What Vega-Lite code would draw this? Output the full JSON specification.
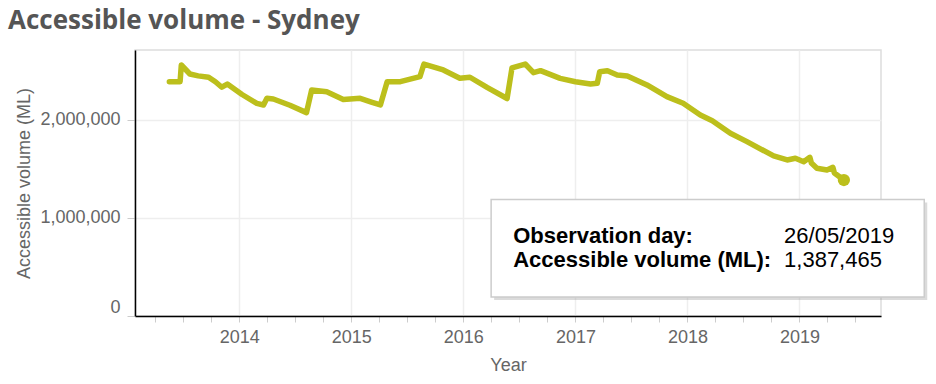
{
  "$schema": "https://vega.github.io/schema/vega-lite/v6.json",
  "width": 746,
  "height": 266,
  "autosize": {"type": "none"},
  "padding": {"left": 135, "top": 50, "right": 55, "bottom": 68},
  "background": "white",
  "title": {
    "text": "Accessible volume - Sydney",
    "anchor": "start",
    "frame": "group",
    "font": "Open Sans",
    "fontSize": 26,
    "fontWeight": "bold",
    "color": "#555555",
    "dx": -127,
    "dy": 23,
    "offset": 18,
    "baseline": "alphabetic"
  },
  "config": {
    "view": {"stroke": "#dddddd", "strokeWidth": 1.5},
    "font": "Liberation Sans"
  },
  "datasets": {
    "volume": [
      {"date": "2013-05-18", "value": 2391000},
      {"date": "2013-06-22", "value": 2391000},
      {"date": "2013-06-26", "value": 2561000},
      {"date": "2013-07-24", "value": 2469000},
      {"date": "2013-08-20", "value": 2450000},
      {"date": "2013-09-23", "value": 2436000},
      {"date": "2013-10-15", "value": 2390000},
      {"date": "2013-11-05", "value": 2334000},
      {"date": "2013-11-23", "value": 2367000},
      {"date": "2014-01-10", "value": 2260000},
      {"date": "2014-02-27", "value": 2170000},
      {"date": "2014-03-21", "value": 2153000},
      {"date": "2014-04-01", "value": 2221000},
      {"date": "2014-04-22", "value": 2214000},
      {"date": "2014-06-15", "value": 2150000},
      {"date": "2014-08-08", "value": 2075000},
      {"date": "2014-08-25", "value": 2306000},
      {"date": "2014-10-13", "value": 2289000},
      {"date": "2014-12-06", "value": 2209000},
      {"date": "2015-01-30", "value": 2221000},
      {"date": "2015-03-10", "value": 2180000},
      {"date": "2015-04-06", "value": 2153000},
      {"date": "2015-04-28", "value": 2391000},
      {"date": "2015-06-10", "value": 2391000},
      {"date": "2015-08-13", "value": 2442000},
      {"date": "2015-08-26", "value": 2571000},
      {"date": "2015-10-28", "value": 2510000},
      {"date": "2015-12-21", "value": 2425000},
      {"date": "2016-01-23", "value": 2436000},
      {"date": "2016-03-20", "value": 2330000},
      {"date": "2016-05-23", "value": 2219000},
      {"date": "2016-06-08", "value": 2531000},
      {"date": "2016-07-21", "value": 2571000},
      {"date": "2016-08-17", "value": 2483000},
      {"date": "2016-09-09", "value": 2503000},
      {"date": "2016-11-12", "value": 2425000},
      {"date": "2017-01-01", "value": 2390000},
      {"date": "2017-02-19", "value": 2367000},
      {"date": "2017-03-13", "value": 2374000},
      {"date": "2017-03-21", "value": 2493000},
      {"date": "2017-04-15", "value": 2503000},
      {"date": "2017-05-17", "value": 2459000},
      {"date": "2017-06-19", "value": 2449000},
      {"date": "2017-08-22", "value": 2357000},
      {"date": "2017-10-26", "value": 2238000},
      {"date": "2017-12-18", "value": 2170000},
      {"date": "2018-02-12", "value": 2051000},
      {"date": "2018-03-23", "value": 1993000},
      {"date": "2018-05-21", "value": 1864000},
      {"date": "2018-07-14", "value": 1779000},
      {"date": "2018-10-09", "value": 1633000},
      {"date": "2018-11-22", "value": 1592000},
      {"date": "2018-12-19", "value": 1609000},
      {"date": "2019-01-15", "value": 1574000},
      {"date": "2019-02-04", "value": 1619000},
      {"date": "2019-02-09", "value": 1561000},
      {"date": "2019-02-27", "value": 1507000},
      {"date": "2019-04-01", "value": 1490000},
      {"date": "2019-04-20", "value": 1517000},
      {"date": "2019-04-25", "value": 1459000},
      {"date": "2019-05-26", "value": 1387465}
    ]
  },
  "data": {"name": "volume"},
  "layer": [
    {
      "mark": {"type": "line", "color": "#bcbf1c", "strokeWidth": 5.5, "strokeJoin": "round", "strokeCap": "round"},
      "encoding": {
        "x": {
          "field": "date",
          "type": "temporal",
          "scale": {
            "type": "utc",
            "domain": [
              {"year": 2013, "month": 1, "date": 26, "utc": true},
              {"year": 2019, "month": 9, "date": 24, "utc": true}
            ]
          },
          "axis": {
            "title": "Year",
            "tickCount": {"interval": "month", "step": 3},
            "labelExpr": "utcmonth(datum.value) == 0 ? utcFormat(datum.value, '%Y') : ''",
            "labelOverlap": false,
            "labelFlush": false,
            "gridOpacity": {"condition": {"test": "utcmonth(datum.value) == 0", "value": 1}, "value": 0},
            "gridColor": "#eeeeee",
            "gridWidth": 1.5,
            "domainColor": "#000000",
            "domainWidth": 1.5,
            "tickColor": "#cccccc",
            "tickSize": 6,
            "labelColor": "#666666",
            "labelFontSize": 18,
            "labelFont": "Liberation Sans",
            "labelPadding": 6,
            "titleFont": "Liberation Sans",
            "titleFontSize": 18,
            "titleColor": "#666666",
            "titleFontWeight": "normal",
            "titlePadding": 10
          }
        },
        "y": {
          "field": "value",
          "type": "quantitative",
          "scale": {"domain": [0, 2714000], "nice": false, "zero": true},
          "axis": {
            "title": "Accessible volume (ML)",
            "tickCount": 3,
            "labelExpr": "format(datum.value, ',')",
            "labelBaseline": {"condition": {"test": "datum.value == 0", "value": "bottom"}, "value": "middle"},
            "gridColor": "#eeeeee",
            "gridWidth": 1.5,
            "domainColor": "#000000",
            "domainWidth": 1.5,
            "tickColor": "#cccccc",
            "tickSize": 8,
            "labelColor": "#666666",
            "labelFontSize": 18,
            "labelFont": "Liberation Sans",
            "labelPadding": 7,
            "titleFont": "Liberation Sans",
            "titleFontSize": 18,
            "titleColor": "#666666",
            "titleFontWeight": "normal",
            "titlePadding": 6
          }
        }
      }
    },
    {
      "transform": [{"filter": "datum.value == 1387465"}],
      "mark": {"type": "circle", "color": "#bcbf1c", "opacity": 1, "size": 150},
      "encoding": {
        "x": {"field": "date", "type": "temporal"},
        "y": {"field": "value", "type": "quantitative"}
      }
    },
    {
      "data": {"values": [{}]},
      "mark": {"type": "rect", "fill": "#999999", "opacity": 0.35, "xOffset": 3, "x2Offset": 3, "yOffset": 3, "y2Offset": 3},
      "encoding": {
        "x": {"datum": {"year": 2016, "month": 4, "date": 1, "utc": true}, "type": "temporal"},
        "x2": {"datum": {"year": 2020, "month": 2, "date": 12, "utc": true}},
        "y": {"datum": 1189000, "type": "quantitative"},
        "y2": {"datum": 194000}
      }
    },
    {
      "data": {"values": [{}]},
      "mark": {"type": "rect", "fill": "#ffffff", "stroke": "#cccccc", "strokeWidth": 1.5},
      "encoding": {
        "x": {"datum": {"year": 2016, "month": 4, "date": 1, "utc": true}, "type": "temporal"},
        "x2": {"datum": {"year": 2020, "month": 2, "date": 12, "utc": true}},
        "y": {"datum": 1189000, "type": "quantitative"},
        "y2": {"datum": 194000}
      }
    },
    {
      "data": {"values": [{}]},
      "mark": {"type": "text", "align": "left", "baseline": "alphabetic", "font": "Liberation Sans", "fontSize": 22, "fontWeight": "bold", "color": "#000000", "lineHeight": 24.6},
      "encoding": {
        "x": {"datum": {"year": 2016, "month": 6, "date": 12, "utc": true}, "type": "temporal"},
        "y": {"datum": 748000, "type": "quantitative"},
        "text": {"value": ["Observation day:", "Accessible volume (ML):"]}
      }
    },
    {
      "data": {"values": [{}]},
      "mark": {"type": "text", "align": "left", "baseline": "alphabetic", "font": "Liberation Sans", "fontSize": 22, "fontWeight": "normal", "color": "#000000", "lineHeight": 24.6},
      "encoding": {
        "x": {"datum": {"year": 2018, "month": 11, "date": 12, "utc": true}, "type": "temporal"},
        "y": {"datum": 748000, "type": "quantitative"},
        "text": {"value": ["26/05/2019", "1,387,465"]}
      }
    }
  ]
}
